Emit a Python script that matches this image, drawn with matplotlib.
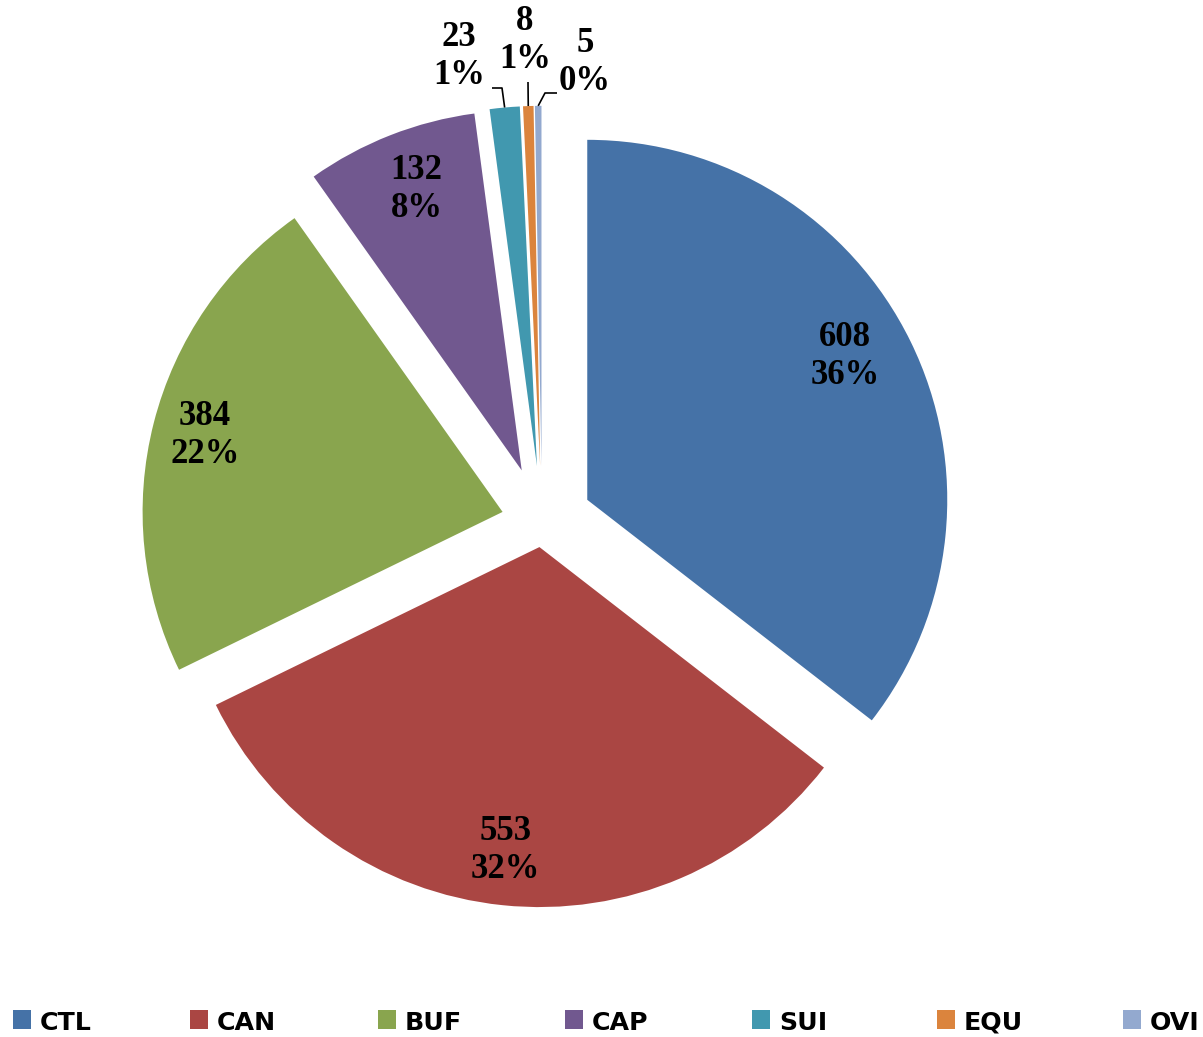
import os
import matplotlib
matplotlib.use("Agg")
import matplotlib.pyplot as plt
from matplotlib.patches import Rectangle
from matplotlib import font_manager as fm
import numpy as np

# ---- data ----
categories = ["CTL", "CAN", "BUF", "CAP", "SUI", "EQU", "OVI"]
values = [608, 553, 384, 132, 23, 8, 5]
colors = ["#4572A7", "#AA4643", "#89A54E", "#71588F", "#4198AF", "#DB843D", "#93A9CF"]

# ---- layout ----
W, H = 1203, 1037
radius = 360
explode_frac = [0.14, 0.07, 0.113, 0.154, 0.156, 0.156, 0.156]
explode = [e * radius for e in explode_frac]
center = (542, H - 522)
label_dist = [0.82, 0.847, 0.853, 0.833]
label_dang = [3.0, -0.5, 0.0, -0.9]


def largest_remainder_pct(vals):
    vals = np.asarray(vals, dtype=float)
    raw = vals / vals.sum() * 100
    fl = np.floor(raw).astype(int)
    rem = raw - fl
    need = 100 - fl.sum()
    order = np.argsort(-rem)
    for k in order[:need]:
        fl[k] += 1
    return fl


def serif_bold_font(size):
    # prefer a Times-like bold face
    for f in fm.fontManager.ttflist:
        if f.name in ("Liberation Serif", "Tinos") and f.weight == 700 and f.style == "normal":
            return fm.FontProperties(fname=f.fname, size=size)
    for f in fm.fontManager.ttflist:
        if f.name == "TeX Gyre Termes" and f.weight == 700 and f.style == "normal":
            return fm.FontProperties(fname=f.fname, size=size)
    return fm.FontProperties(family="serif", weight="bold", size=size)


pcts = largest_remainder_pct(values)

fig = plt.figure(figsize=(W / 100, H / 100), dpi=100)
ax = fig.add_axes([0, 0, 1, 1])
wedges, _ = ax.pie(values, colors=colors, startangle=90, counterclock=False,
                   explode=explode, radius=radius, center=center,
                   wedgeprops=dict(linewidth=0))
ax.set_xlim(0, W)
ax.set_ylim(0, H)
ax.set_aspect("equal")
ax.axis("off")

lab_fp = serif_bold_font(25)

# inside labels for big slices
for i, w in enumerate(wedges[:4]):
    mid = np.deg2rad((w.theta1 + w.theta2) / 2 + label_dang[i])
    cx, cy = w.center
    x = cx + label_dist[i] * radius * np.cos(mid)
    y = cy + label_dist[i] * radius * np.sin(mid)
    ax.text(x, y, f"{values[i]}\n{pcts[i]}%", ha="center", va="center",
            linespacing=1.2, fontproperties=lab_fp, color="black")

# outside labels for small slices (image-pixel positions of label centre and leader elbow)
small_label_pos = [(459, 57), (525, 40), (585, 63)]
small_elbow = [[(502, 88), (492, 88)], [(528, 82)], [(545, 93), (557, 93)]]
for j, w in enumerate(wedges[4:]):
    i = j + 4
    mid = np.deg2rad((w.theta1 + w.theta2) / 2)
    cx, cy = w.center
    px = cx + radius * np.cos(mid)
    py = cy + radius * np.sin(mid)
    pts = [(px, py)] + [(ex, H - ey) for ex, ey in small_elbow[j]]
    xs, ys = zip(*pts)
    ax.plot(xs, ys, color="black", lw=1.2, solid_capstyle="butt")
    lx, ly = small_label_pos[j]
    ax.text(lx, H - ly, f"{values[i]}\n{pcts[i]}%", ha="center", va="center",
            linespacing=1.2, fontproperties=lab_fp, color="black")

# legend
leg_x = [13, 190, 378, 565, 752, 937, 1123]
for k, (cat, col) in enumerate(zip(categories, colors)):
    ax.add_patch(Rectangle((leg_x[k], H - 1029), 18, 19, facecolor=col,
                           edgecolor="none", clip_on=False))
    ax.text(leg_x[k] + 27, H - 1029.5, cat, ha="left", va="baseline",
            family="DejaVu Sans", weight="bold", size=18.2, color="black")

fig.savefig("out.png", dpi=100)
